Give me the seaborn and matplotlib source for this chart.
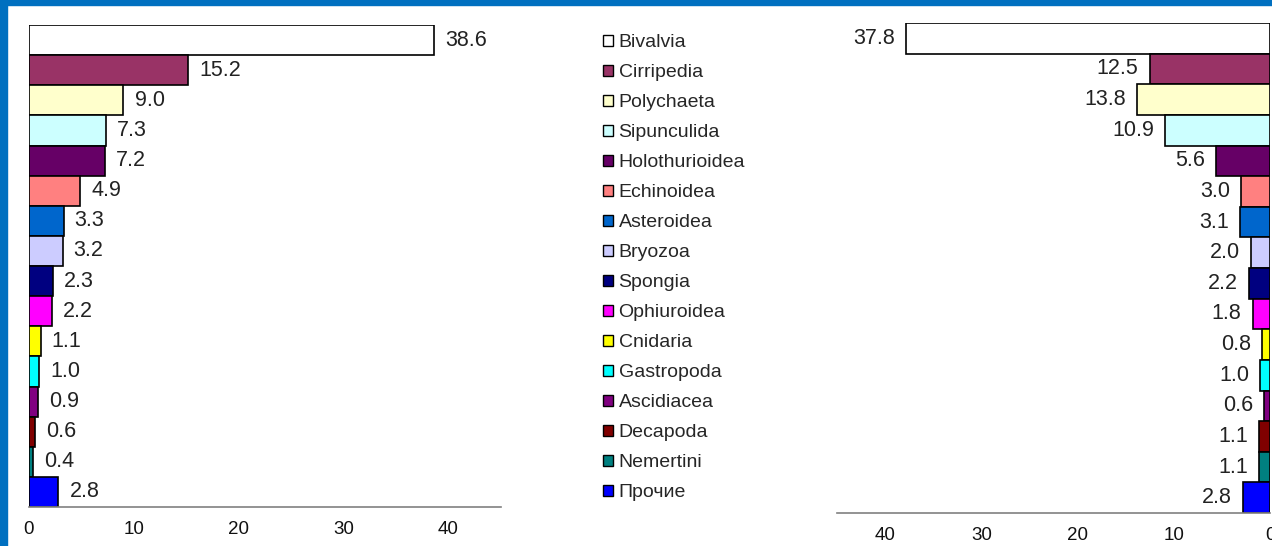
import matplotlib.pyplot as plt
import seaborn as sns
from matplotlib.patches import Patch, Rectangle

taxa = ["Bivalvia", "Cirripedia", "Polychaeta", "Sipunculida", "Holothurioidea",
        "Echinoidea", "Asteroidea", "Bryozoa", "Spongia", "Ophiuroidea",
        "Cnidaria", "Gastropoda", "Ascidiacea", "Decapoda", "Nemertini", "Прочие"]
left_vals = [38.6, 15.2, 9.0, 7.3, 7.2, 4.9, 3.3, 3.2, 2.3, 2.2, 1.1, 1.0, 0.9, 0.6, 0.4, 2.8]
right_vals = [37.8, 12.5, 13.8, 10.9, 5.6, 3.0, 3.1, 2.0, 2.2, 1.8, 0.8, 1.0, 0.6, 1.1, 1.1, 2.8]
colors = ["#FFFFFF", "#993366", "#FFFFCC", "#CCFFFF", "#660066",
          "#FF8080", "#0066CC", "#CCCCFF", "#000080", "#FF00FF",
          "#FFFF00", "#00FFFF", "#800080", "#800000", "#008080", "#0000FF"]
ticks = [0, 10, 20, 30, 40]

sns.set_style("white")
plt.rcParams["font.family"] = ["Liberation Sans", "DejaVu Sans"]
palette = dict(zip(taxa, colors))

fig = plt.figure(figsize=(12.72, 5.46), dpi=100)
ax_l = fig.add_axes([29 / 1272, 39 / 546, 472 / 1272, 482 / 546])
ax_r = fig.add_axes([837 / 1272, 33 / 546, 433 / 1272, 490 / 546])


def draw(ax, vals, side):
    sns.barplot(x=vals, y=taxa, hue=taxa, palette=palette, orient="h", width=1.0,
                saturation=1, edgecolor="black", linewidth=1.2, legend=False, ax=ax)
    off = 8 if side == "left" else -8
    for i, v in enumerate(vals):
        ax.annotate(f"{v:.1f}", xy=(v, i), xytext=(off, 0), textcoords="offset points",
                    ha="left" if side == "left" else "right", va="center",
                    fontsize=15.5, color="#222222")
    ax.set_ylim(15.5, -0.5)
    ax.set_yticks([])
    ax.set_ylabel("")
    ax.set_xticks(ticks)
    ax.tick_params(axis="x", direction="out", length=4, width=1, color="#808080",
                   labelsize=13.5, labelcolor="#111111", pad=6)
    for s in ["left", "right", "top"]:
        ax.spines[s].set_visible(False)
    ax.spines["bottom"].set_color("#808080")
    ax.spines["bottom"].set_linewidth(1.2)
    ax.patch.set_alpha(0)


draw(ax_l, left_vals, "left")
ax_l.set_xlim(0, 45)
draw(ax_r, right_vals, "right")
ax_r.set_xlim(45, 0)

handles = [Patch(facecolor=c, edgecolor="black", linewidth=1) for c in colors]
fig.legend(handles, taxa, loc="upper left", bbox_to_anchor=(603 / 1272, 1 - 34 / 546),
           frameon=False, fontsize=14, handlelength=0.5, handleheight=0.5,
           handletextpad=0.3, labelspacing=0.67, borderpad=0, borderaxespad=0)

# blue slide frame
fig.add_artist(Rectangle((0, 0), 7 / 1272, 1, transform=fig.transFigure,
                         color="#0070C0", zorder=10))
fig.add_artist(Rectangle((0, 1 - 5 / 546), 1, 5 / 546, transform=fig.transFigure,
                         color="#0070C0", zorder=10))

fig.savefig("out.png", dpi=100)
plt.close(fig)
